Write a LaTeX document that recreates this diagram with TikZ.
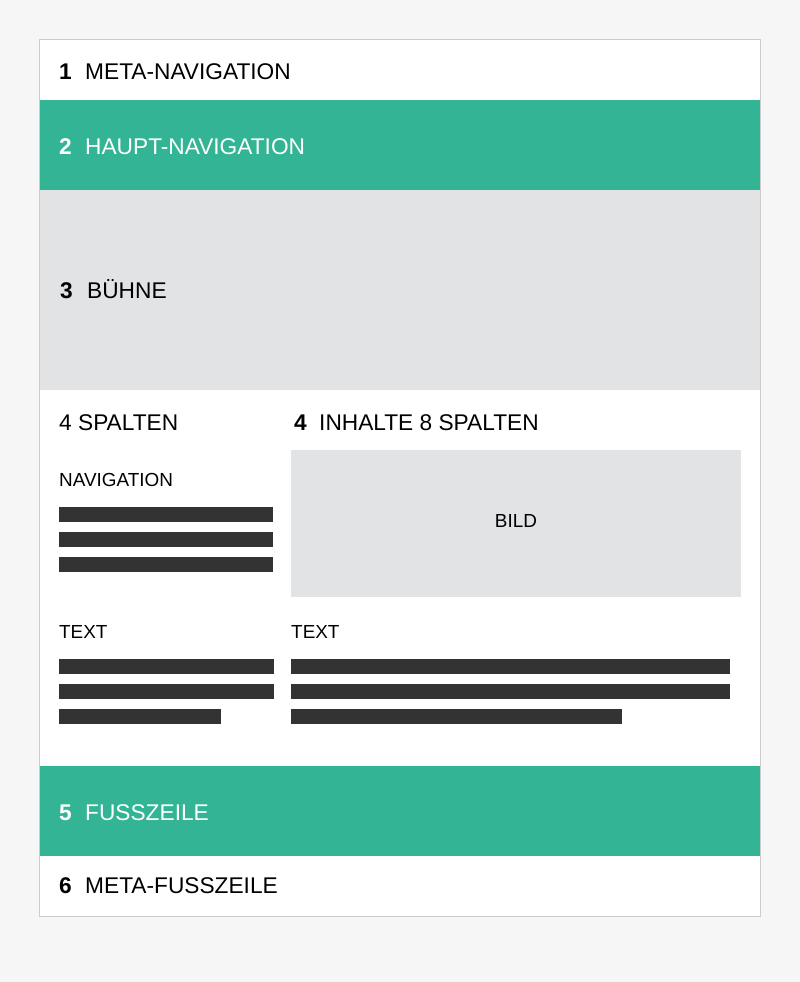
\documentclass[tikz,border=0pt]{standalone}
\usepackage{fontspec}
\setmainfont{Liberation Sans}
\definecolor{bgc}{HTML}{F6F6F6}
\definecolor{framec}{HTML}{CCCCCC}
\definecolor{greenc}{HTML}{33B595}
\definecolor{grayc}{HTML}{E2E3E5}
\definecolor{barc}{HTML}{333333}
\begin{document}
\begin{tikzpicture}[x=1pt,y=-1pt,
  big/.style={anchor=base west,inner sep=0pt,font=\fontsize{22.7}{27}\selectfont},
  bignum/.style={big,font=\fontsize{22.7}{27}\selectfont\bfseries},
  small/.style={anchor=base west,inner sep=0pt,font=\fontsize{18.9}{22}\selectfont},
  bar/.style={fill=barc,draw=none}]
\useasboundingbox (0,0) rectangle (800,982);
\fill[bgc] (0,0) rectangle (800,982);
% sections
\fill[white] (40,40) rectangle (760,916);
\fill[greenc] (40,100) rectangle (760,190);
\fill[grayc] (40,190) rectangle (760,390);
\fill[greenc] (40,766) rectangle (760,856);
\draw[framec,line width=1pt] (39.5,39.5) rectangle (760.5,916.5);
% 1
\node[bignum] (n1) at (59,79) {1};
\node[big] (t1) at (85,79) {META-NAVIGATION};
% 2
\node[bignum,text=white] (n2) at (59,154) {2};
\node[big,text=white] (t2) at (85,154) {HAUPT-NAVIGATION};
% 3
\node[bignum] (n3) at (60,298.5) {3};
\node[big] (t3) at (87,298.5) {BÜHNE};
% 4
\node[big] (s4) at (59,430) {4 SPALTEN};
\node[bignum] (n4) at (294,430) {4};
\node[big] (t4) at (319,430) {INHALTE 8 SPALTEN};
\node[small] (nav) at (59,486) {NAVIGATION};
\fill[bar] (59,507) rectangle (273,522);
\fill[bar] (59,532) rectangle (273,547);
\fill[bar] (59,557) rectangle (273,572);
\fill[grayc] (291,450) rectangle (741,597);
\node[small,anchor=base] (bild) at (516,527.5) {BILD};
\node[small] (txl) at (59,638) {TEXT};
\node[small] (txr) at (291,638) {TEXT};
\fill[bar] (59,659) rectangle (274,674);
\fill[bar] (59,684) rectangle (274,699);
\fill[bar] (59,709) rectangle (221,724);
\fill[bar] (291,659) rectangle (730,674);
\fill[bar] (291,684) rectangle (730,699);
\fill[bar] (291,709) rectangle (622,724);
% 5
\node[bignum,text=white] (n5) at (59,820) {5};
\node[big,text=white] (t5) at (85,820) {FUSSZEILE};
% 6
\node[bignum] (n6) at (59,893) {6};
\node[big] (t6) at (85,893) {META-FUSSZEILE};
\end{tikzpicture}
\end{document}
